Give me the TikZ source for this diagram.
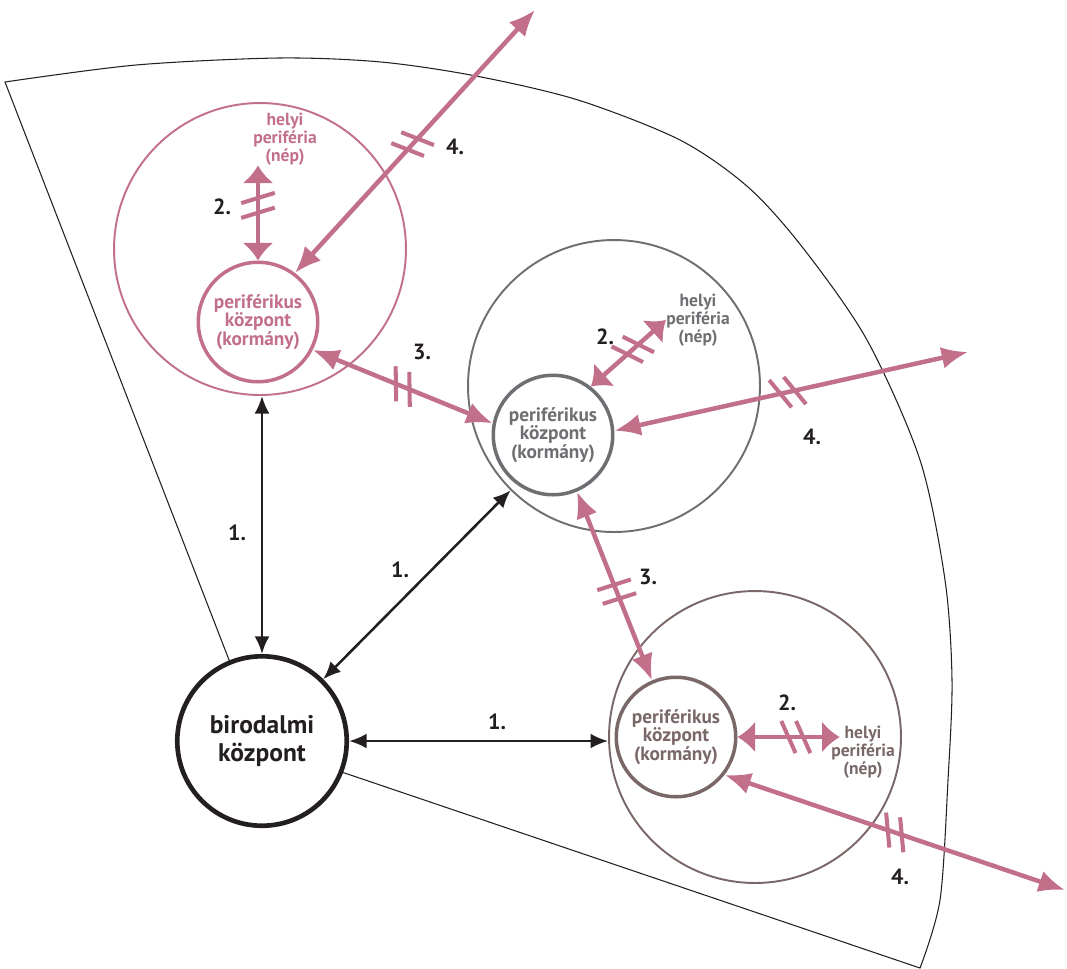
\documentclass[tikz,border=0pt]{standalone}
\usepackage{fontspec}
\setmainfont{PT Sans}
\usetikzlibrary{arrows.meta,decorations.markings}
\definecolor{rose}{HTML}{C27089}
\definecolor{slate}{HTML}{6E6F72}
\definecolor{taupe}{HTML}{7A6767}
\definecolor{ink}{HTML}{231F20}
\begin{document}
\begin{tikzpicture}[x=0.02cm,y=-0.02cm,
    edge/.style={draw=ink,line width=0.6pt},
    hub/.style={circle,draw=ink,line width=2.65pt,fill=white,minimum size=3.39cm,inner sep=0pt,
        align=center,text=ink,font={\fontsize{14.5}{15.6}\selectfont\bfseries}},
    ring/.style={circle,draw=#1,line width=1.1pt,minimum size=5.84cm},
    core/.style={circle,draw=#1,text=#1,fill=white,line width=2pt,minimum size=2.39cm,inner sep=0pt,
        align=center,font={\fontsize{11}{10.6}\selectfont\bfseries}},
    folk/.style={text=#1,inner sep=0pt,align=center,font={\fontsize{10}{10.2}\selectfont\bfseries}},
    num/.style={text=ink,font={\fontsize{12.5}{14}\selectfont\bfseries}},
    link/.style={draw=ink,line width=1.45pt,{Latex[length=10pt,width=8.5pt]}-{Latex[length=10pt,width=8.5pt]}},
    duo/.style={draw=rose,line width=2.55pt,{Latex[length=10pt,width=18pt]}-{Latex[length=10pt,width=18pt]}},
    far/.style={draw=rose,line width=2.55pt,{Latex[length=15pt,width=12.5pt]}-{Latex[length=15pt,width=12.5pt]}},
    ticks/.style 2 args={postaction={decorate,decoration={markings,
        mark=at position #1 with {
            \draw[rose,line width=2.3pt,-] (-4.2pt,0pt) ++(#2:-10pt) -- ++(#2:20pt);
            \draw[rose,line width=2.3pt,-] (4.2pt,0pt) ++(#2:-10pt) -- ++(#2:20pt);}}}}]
\useasboundingbox (0,0) rectangle (1067,968);

\draw[edge] plot[smooth] coordinates {(5,82) (136,65) (279,58) (381,62) (476,76) (578,100)
    (680,140) (748,187) (803,248) (867,340) (920,460) (945,580) (952,680) (948,780) (940,900) (920,968)}
    -- (262,745) -- cycle;

\node[ring=rose] (pa) at (260,249) {};
\node[ring=slate] (pb) at (614,386) {};
\node[ring=taupe] (pc) at (755,737) {};

\node[core=rose] (ca) at (258,322) {periférikus\\központ\\(kormány)};
\node[core=slate] (cb) at (553,435) {periférikus\\központ\\(kormány)};
\node[core=taupe] (cc) at (676,737) {periférikus\\központ\\(kormány)};
\node[hub] (emp) at (262,741) {birodalmi\\központ};

\node[folk=rose] (na) at (285,139) {helyi\\periféria\\(nép)};
\node[folk=slate] (nb) at (698,320) {helyi\\periféria\\(nép)};
\node[folk=taupe] (nc) at (863,752) {helyi\\periféria\\(nép)};

\coordinate (o1) at (535,10);
\coordinate (o2) at (968,352);
\coordinate (o3) at (1065,890);

\draw[link] (emp.north) -- (emp.north |- pa.south);
\draw[link] (emp) -- (pb);
\draw[link] (emp.east) -- (emp.east -| pc.west);

\draw[duo,ticks={0.58}{-73}] (ca.north) -- (ca.north |- na.south);
\draw[far,ticks={0.49}{-69}] (ca.53) -- (o1);
\draw[far,ticks={0.5}{-67}] (ca.-27) -- (cb.169);
\draw[duo,ticks={0.56}{-68}] (cb.52) -- (nb.west);
\draw[far,ticks={0.49}{-63}] (cb.4) -- (o2);
\draw[far,ticks={0.53}{86}] (cb.-67) -- (cc.113);
\draw[duo,ticks={0.57}{-66}] (cc.east) -- ([xshift=5pt]cc.east -| nc.west);
\draw[far,ticks={0.5}{-66}] (cc.-38) -- (o3);

\node[num] (n1a) at (237,533) {1.};
\node[num] (n1b) at (400,570) {1.};
\node[num] (n1c) at (497,722) {1.};
\node[num] (n2a) at (222,207) {2.};
\node[num] (n2b) at (605,337) {2.};
\node[num] (n2c) at (787,703) {2.};
\node[num] (n3a) at (422,352) {3.};
\node[num] (n3b) at (648,577) {3.};
\node[num] (n4a) at (455,147) {4.};
\node[num] (n4b) at (812,437) {4.};
\node[num] (n4c) at (900,877) {4.};
\end{tikzpicture}
\end{document}
